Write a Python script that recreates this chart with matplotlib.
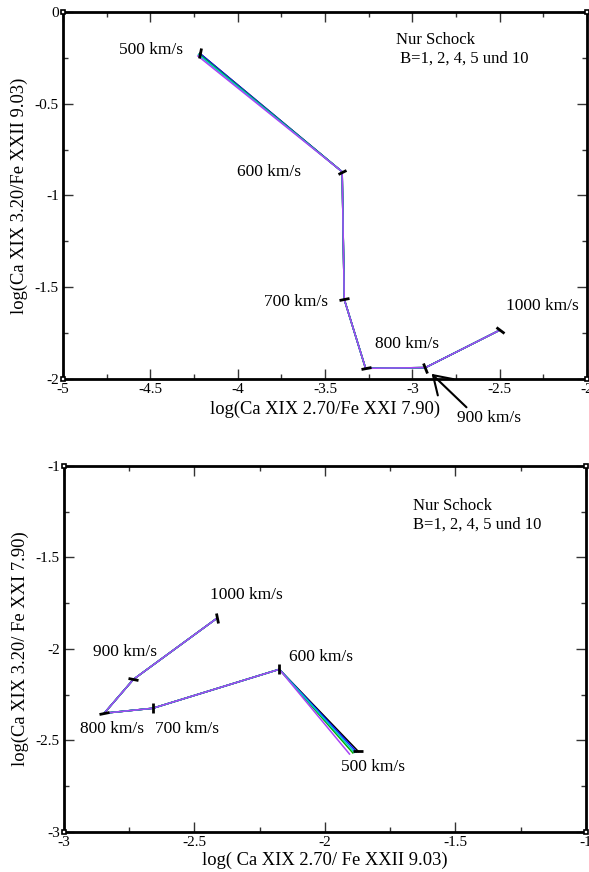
import numpy as np
import matplotlib
matplotlib.use("Agg")
import matplotlib.pyplot as plt
from matplotlib.markers import MarkerStyle
from matplotlib.transforms import Affine2D
from matplotlib.ticker import MultipleLocator

plt.rcParams['font.family'] = ['Liberation Serif', 'DejaVu Serif']
plt.rcParams['axes.unicode_minus'] = False

# data: velocities and line ratios for each B value
speeds = ["500 km/s", "600 km/s", "700 km/s", "800 km/s", "900 km/s", "1000 km/s"]
b_values = [1, 2, 4, 5, 10]

# top panel: x = log(Ca XIX 2.70/Fe XXI 7.90), y = log(Ca XIX 3.20/Fe XXII 9.03)
top_x = {
    1:  [-4.217, -3.402, -3.390, -3.268, -2.925, -2.498],
    2:  [-4.217, -3.402, -3.390, -3.268, -2.925, -2.498],
    4:  [-4.221, -3.402, -3.390, -3.268, -2.925, -2.498],
    5:  [-4.224, -3.402, -3.390, -3.268, -2.925, -2.498],
    10: [-4.228, -3.402, -3.390, -3.268, -2.925, -2.498],
}
top_y = {
    1:  [-0.226, -0.871, -1.566, -1.942, -1.938, -1.733],
    2:  [-0.226, -0.871, -1.566, -1.942, -1.938, -1.733],
    4:  [-0.230, -0.871, -1.566, -1.942, -1.938, -1.733],
    5:  [-0.233, -0.871, -1.566, -1.942, -1.938, -1.733],
    10: [-0.240, -0.871, -1.566, -1.942, -1.938, -1.733],
}

# bottom panel: x = log(Ca XIX 2.70/Fe XXII 9.03), y = log(Ca XIX 3.20/Fe XXI 7.90)
bot_x = {
    1:  [-1.872, -2.175, -2.660, -2.846, -2.734, -2.414],
    2:  [-1.879, -2.175, -2.660, -2.846, -2.734, -2.414],
    4:  [-1.893, -2.175, -2.660, -2.846, -2.734, -2.414],
    5:  [-1.886, -2.175, -2.660, -2.846, -2.734, -2.414],
    10: [-1.906, -2.175, -2.660, -2.846, -2.734, -2.414],
}
bot_y = {
    1:  [-2.560, -2.111, -2.324, -2.351, -2.166, -1.832],
    2:  [-2.562, -2.111, -2.324, -2.351, -2.166, -1.832],
    4:  [-2.568, -2.111, -2.324, -2.351, -2.166, -1.832],
    5:  [-2.565, -2.111, -2.324, -2.351, -2.166, -1.832],
    10: [-2.574, -2.111, -2.324, -2.351, -2.166, -1.832],
}

colors = {1: 'black', 2: '#1010ff', 4: '#00b000', 5: '#00c8c8', 10: '#a845f5'}

# orientation of the little black bars at each point (degrees)
top_bar_angles = [75, 27, 15, 10, -70, -43]
bot_bar_angles = [0, 90, 90, 16, -16, -77]


def style_axes(ax, xlim, ylim):
    ax.set_xlim(*xlim)
    ax.set_ylim(*ylim)
    ax.xaxis.set_major_locator(MultipleLocator(0.5))
    ax.xaxis.set_minor_locator(MultipleLocator(0.25))
    ax.yaxis.set_major_locator(MultipleLocator(0.5))
    ax.yaxis.set_minor_locator(MultipleLocator(0.25))
    ax.tick_params(which='both', direction='in', top=True, right=True,
                   color='#333333', width=1, labelsize=11, pad=3)
    ax.tick_params(which='major', length=7.5)
    ax.tick_params(which='minor', length=3.8)
    for s in ax.spines.values():
        s.set_linewidth(2)
    ax.xaxis.set_major_formatter(plt.FuncFormatter(lambda v, p: f"{v:g}"))
    ax.yaxis.set_major_formatter(plt.FuncFormatter(lambda v, p: f"{v:g}"))
    # small corner boxes like the original xmgrace frame
    ax.plot([0, 0, 1, 1], [0, 1, 0, 1], ls='none', marker='s', ms=2.8,
            mfc='white', mec='black', mew=1.2, transform=ax.transAxes,
            clip_on=False, zorder=6)


def draw(ax, xs, ys, angles):
    for b in b_values:
        ax.plot(xs[b], ys[b], color=colors[b], lw=1.1, zorder=2 + b / 100)
    ref = b_values[0]
    for x, y, a in zip(xs[ref], ys[ref], angles):
        m = MarkerStyle('|', transform=Affine2D().rotate_deg(a - 90))
        ax.plot(x, y, marker=m, ms=7, mew=2, color='black', ls='none', zorder=5)


fig = plt.figure(figsize=(5.89, 8.72), dpi=100)

ax1 = fig.add_axes([0.107, 0.5654, 0.8897, 0.4209])
style_axes(ax1, (-5, -2), (-2, 0))
draw(ax1, top_x, top_y, top_bar_angles)
ax1.set_xlabel("log(Ca XIX 2.70/Fe XXI 7.90)", fontsize=13.3, labelpad=3)
ax1.set_ylabel("log(Ca XIX 3.20/Fe XXII 9.03)", fontsize=13.3, labelpad=5)

top_label_pos = [(-4.678, -0.207), (-4.006, -0.872), (-3.851, -1.580),
                 (-3.213, -1.809), None, (-2.466, -1.602)]
for lab, pos in zip(speeds, top_label_pos):
    if pos is not None:
        ax1.text(pos[0], pos[1], lab, fontsize=12.5, ha='left', va='center')
ax1.annotate(speeds[4], xy=(-2.89, -1.972), xytext=(-2.747, -2.213),
             fontsize=12.5, ha='left', va='center', annotation_clip=False,
             arrowprops=dict(arrowstyle='->,head_length=0.7,head_width=0.45',
                             lw=1.5, color='black', mutation_scale=18,
                             shrinkA=0, shrinkB=0, relpos=(0.2, 1.0)))
ax1.text(-3.092, -0.205, "Nur Schock\n B=1, 2, 4, 5 und 10", fontsize=12,
         ha='left', va='center', linespacing=1.2)

ax2 = fig.add_axes([0.1087, 0.0459, 0.886, 0.4197])
style_axes(ax2, (-3, -1), (-3, -1))
draw(ax2, bot_x, bot_y, bot_bar_angles)
ax2.set_xlabel("log( Ca XIX 2.70/ Fe XXII 9.03)", fontsize=13.3, labelpad=2)
ax2.set_ylabel("log(Ca XIX 3.20/ Fe XXI 7.90)", fontsize=13.3, labelpad=5)

bot_label_pos = [(-1.939, -2.645), (-2.138, -2.044), (-2.651, -2.437),
                 (-2.939, -2.437), (-2.889, -2.016), (-2.441, -1.705)]
for lab, pos in zip(speeds, bot_label_pos):
    ax2.text(pos[0], pos[1], lab, fontsize=12.5, ha='left', va='center')
ax2.text(-1.663, -1.27, "Nur Schock\nB=1, 2, 4, 5 und 10", fontsize=12,
         ha='left', va='center', linespacing=1.2)

fig.savefig("out.png", dpi=100)
